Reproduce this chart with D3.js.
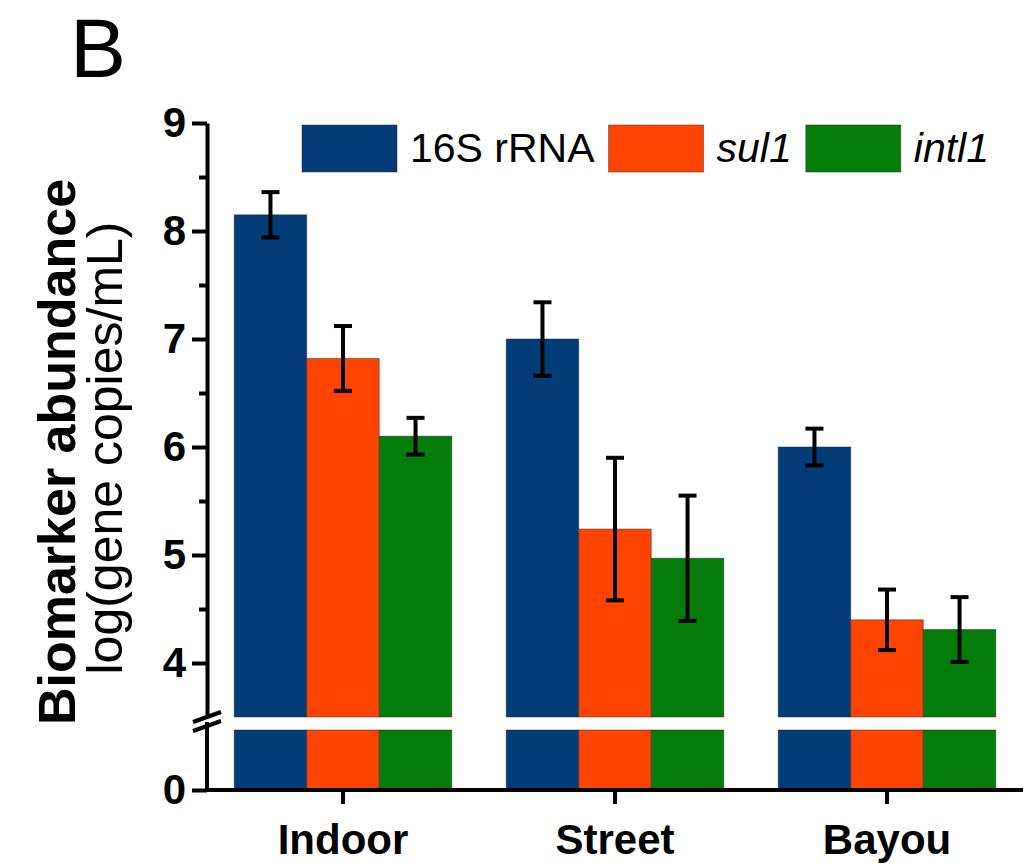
<!DOCTYPE html>
<html>
<head>
<meta charset="utf-8">
<script src="https://cdn.jsdelivr.net/npm/d3@7/dist/d3.min.js"></script>
<style>
  body { margin: 0; background: #fff; }
  text { font-family: Arial, "Liberation Sans", sans-serif; }
</style>
</head>
<body>
<div id="chart"></div>
<script>
// data
const sites = ["Indoor", "Street", "Bayou"];
const genes = ["16S rRNA", "sul1", "intl1"];
const rrna16s = [8.15, 7.0, 6.0];
const sul1 = [6.82, 5.24, 4.40];
const intl1 = [6.1, 4.97, 4.31];
const rrna16sErr = [0.21, 0.34, 0.17];
const sul1Err = [0.30, 0.66, 0.28];
const intl1Err = [0.17, 0.58, 0.30];
const yTicks = [4, 5, 6, 7, 8, 9];
const yMinorTicks = [4.5, 5.5, 6.5, 7.5, 8.5];

const colors = ["#033c76", "#ff4300", "#037c0c"];

const width = 1033, height = 868;
const svg = d3.select("#chart").append("svg")
    .attr("width", width)
    .attr("height", height);

// upper and lower parts of the broken y axis
const yUp = d3.scaleLinear().domain([3.5, 9]).range([717, 123]);
const yLow = d3.scaleLinear().domain([0, 0.5]).range([790, 730]);

const x = d3.scaleBand()
    .domain(sites)
    .range([207, 1023])
    .paddingInner(0.2)
    .paddingOuter(0.1);

const xSub = d3.scaleBand()
    .domain(genes)
    .range([0, x.bandwidth()]);

const rows = sites.map((s, i) => ({
    site: s,
    values: [
        { gene: genes[0], v: rrna16s[i], e: rrna16sErr[i] },
        { gene: genes[1], v: sul1[i], e: sul1Err[i] },
        { gene: genes[2], v: intl1[i], e: intl1Err[i] }
    ]
}));

const groups = svg.selectAll(".grp")
    .data(rows)
    .enter().append("g")
    .attr("class", "grp")
    .attr("transform", d => `translate(${x(d.site)},0)`);

// upper part of bars
groups.selectAll(".barUp")
    .data(d => d.values)
    .enter().append("rect")
    .attr("class", "barUp")
    .attr("x", d => xSub(d.gene))
    .attr("width", xSub.bandwidth())
    .attr("y", d => yUp(d.v))
    .attr("height", d => yUp(3.5) - yUp(d.v))
    .attr("fill", (d, i) => colors[i])
    .attr("stroke", "#222")
    .attr("stroke-opacity", 0.45)
    .attr("stroke-width", 1);

// lower part of bars
groups.selectAll(".barLow")
    .data(d => d.values)
    .enter().append("rect")
    .attr("class", "barLow")
    .attr("x", d => xSub(d.gene))
    .attr("width", xSub.bandwidth())
    .attr("y", yLow(0.5))
    .attr("height", yLow(0) - yLow(0.5))
    .attr("fill", (d, i) => colors[i])
    .attr("stroke", "#222")
    .attr("stroke-opacity", 0.45)
    .attr("stroke-width", 1);

// error bars
const eb = groups.selectAll(".err")
    .data(d => d.values)
    .enter().append("g")
    .attr("class", "err")
    .attr("transform", d => `translate(${xSub(d.gene) + xSub.bandwidth() / 2},0)`)
    .attr("stroke", "#000")
    .attr("stroke-width", 4);

eb.append("line")
    .attr("y1", d => yUp(d.v - d.e))
    .attr("y2", d => yUp(d.v + d.e));
eb.append("line")
    .attr("x1", -9).attr("x2", 9)
    .attr("y1", d => yUp(d.v + d.e))
    .attr("y2", d => yUp(d.v + d.e));
eb.append("line")
    .attr("x1", -9).attr("x2", 9)
    .attr("y1", d => yUp(d.v - d.e))
    .attr("y2", d => yUp(d.v - d.e));

// axes
const styleAxis = g => {
    g.select(".domain").attr("stroke", "#000").attr("stroke-width", 4);
    g.selectAll(".tick line").attr("stroke", "#000").attr("stroke-width", 4);
    g.selectAll(".tick text")
        .style("font-size", "42px")
        .style("font-weight", "bold")
        .attr("fill", "#000");
};

const axisX = 207;

svg.append("g")
    .attr("transform", `translate(${axisX},0)`)
    .call(d3.axisLeft(yUp).tickValues(yTicks).tickSize(15).tickSizeOuter(0).tickPadding(6).tickFormat(d3.format("d")))
    .call(styleAxis);

svg.append("g")
    .attr("transform", `translate(${axisX},0)`)
    .call(d3.axisLeft(yUp).tickValues(yMinorTicks).tickSize(8).tickSizeOuter(0).tickFormat(""))
    .call(g => g.select(".domain").remove())
    .call(styleAxis);

svg.append("g")
    .attr("transform", `translate(${axisX},0)`)
    .call(d3.axisLeft(yLow).tickValues([0]).tickSize(15).tickSizeOuter(0).tickPadding(6).tickFormat(d3.format("d")))
    .call(styleAxis)
    .call(g => g.select(".domain").attr("d", `M0,${yLow(0)}V${yLow(0.5) - 8}`));

svg.append("g")
    .attr("transform", `translate(0,${yLow(0)})`)
    .call(d3.axisBottom(x).tickSize(14).tickSizeOuter(0).tickPadding(20))
    .call(styleAxis)
    .call(g => g.select(".domain").attr("d", `M${axisX - 2},0H${x.range()[1]}`));

// break marks on y axis
const brk = svg.append("g").attr("stroke", "#000").attr("stroke-width", 4);
brk.append("line").attr("x1", axisX - 14).attr("y1", 722).attr("x2", axisX + 14).attr("y2", 712);
brk.append("line").attr("x1", axisX - 14).attr("y1", 731).attr("x2", axisX + 14).attr("y2", 721);

// y axis title
svg.append("text")
    .attr("transform", "translate(75,452) rotate(-90)")
    .attr("text-anchor", "middle")
    .style("font-size", "52px")
    .style("font-weight", "bold")
    .text("Biomarker abundance");

svg.append("text")
    .attr("transform", "translate(122,448) rotate(-90)")
    .attr("text-anchor", "middle")
    .style("font-size", "50px")
    .text("log(gene copies/mL)");

// panel letter
svg.append("text")
    .attr("x", 70)
    .attr("y", 77)
    .style("font-size", "84px")
    .text("B");

// legend
const legend = svg.append("g");
let lx = 302;
genes.forEach((g, i) => {
    legend.append("rect")
        .attr("x", lx).attr("y", 125)
        .attr("width", 95).attr("height", 47)
        .attr("fill", colors[i])
        .attr("stroke", "#222")
        .attr("stroke-opacity", 0.45);
    const t = legend.append("text")
        .attr("x", lx + 108).attr("y", 162)
        .style("font-size", "41px")
        .style("font-style", i === 0 ? "normal" : "italic")
        .text(g);
    lx += 108 + t.node().getComputedTextLength() + 14;
});
</script>
</body>
</html>
